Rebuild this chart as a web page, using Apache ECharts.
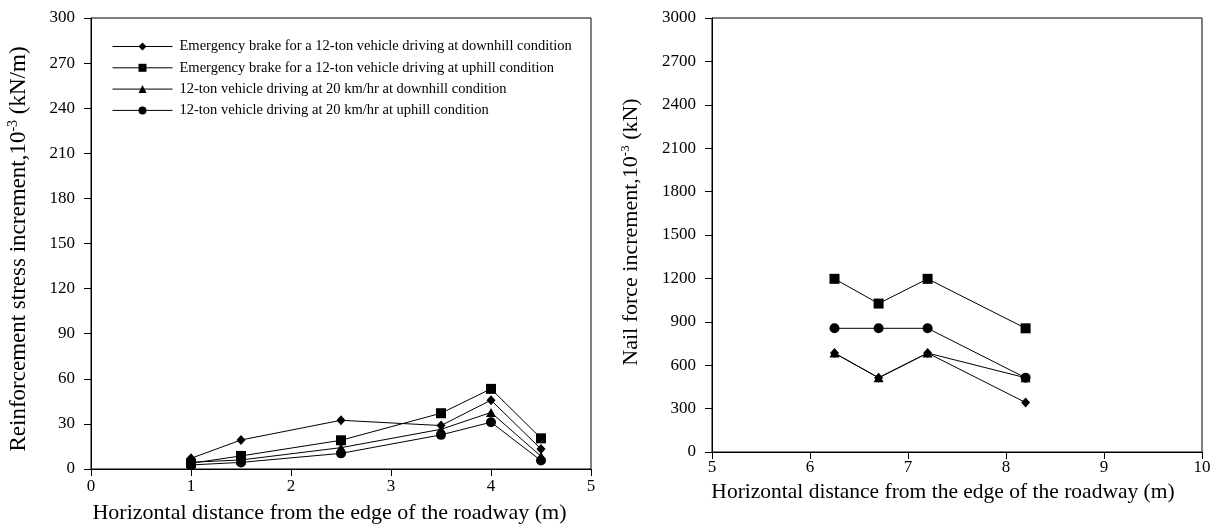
<!DOCTYPE html>
<html>
<head>
<meta charset="utf-8">
<script src="https://cdn.jsdelivr.net/npm/echarts@6/dist/echarts.min.js"></script>
<style>
html,body{margin:0;padding:0;background:#fff;}
#chart{width:1221px;height:532px;}
</style>
</head>
<body>
<div id="chart"></div>
<script>
// ---- Data ----
const seriesNames = [
  'Emergency brake for a 12-ton vehicle driving at downhill condition',
  'Emergency brake for a 12-ton vehicle driving at uphill condition',
  '12-ton vehicle driving at 20 km/hr at downhill condition',
  '12-ton vehicle driving at 20 km/hr at uphill condition'
];
const seriesSymbols = ['diamond', 'rect', 'triangle', 'circle'];

// Left chart: reinforcement stress increment
const leftX = [1, 1.5, 2.5, 3.5, 4, 4.5];
const leftDownBrake = [7.1, 19.3, 32.4, 28.9, 45.8, 13.3];
const leftUpBrake   = [3.8, 8.7, 19.1, 37.1, 53.3, 20.4];
const leftDown20    = [4.5, 6.0, 14.2, 26.4, 37.6, 8.5];
const leftUp20      = [2.7, 4.4, 10.4, 22.7, 31.1, 5.6];

// Right chart: nail force increment
const rightX = [6.25, 6.7, 7.2, 8.2];
const rightDownBrake = [684, 513, 684, 342];
const rightUpBrake   = [1197, 1026, 1197, 855];
const rightDown20    = [684, 513, 684, 513];
const rightUp20      = [855, 855, 855, 513];

const leftYTicks = {min: 0, max: 300, interval: 30};
const rightYTicks = {min: 0, max: 3000, interval: 300};
const leftXTicks = {min: 0, max: 5, interval: 1};
const rightXTicks = {min: 5, max: 10, interval: 1};

const xTitle = 'Horizontal distance from the edge of the roadway (m)';
const leftYTitle = 'Reinforcement stress increment,10{sup|-3} (kN/m)';
const rightYTitle = 'Nail force increment,10{sup|-3} (kN)';

// ---- Chart ----
const FONT = '"Liberation Serif", "Times New Roman", serif';
const pair = (xs, ys) => xs.map((x, i) => [x, ys[i]]);
const leftData = [leftDownBrake, leftUpBrake, leftDown20, leftUp20];
const rightData = [rightDownBrake, rightUpBrake, rightDown20, rightUp20];
const symSizes = {diamond: [9, 10], rect: 10, triangle: [10, 9], circle: 10};

function mkSeries(data, xs, idx) {
  return data.map((ys, i) => ({
    name: seriesNames[i],
    type: 'line',
    xAxisIndex: idx,
    yAxisIndex: idx,
    data: pair(xs, ys),
    symbol: seriesSymbols[i],
    symbolSize: symSizes[seriesSymbols[i]],
    showAllSymbol: true,
    lineStyle: {color: '#000', width: 1},
    itemStyle: {color: '#000', borderWidth: 0},
    emphasis: {disabled: true},
    animation: false,
    z: 2 + (3 - i)
  }));
}

const axisCommon = {
  axisLine: {show: true, lineStyle: {color: '#000', width: 1}},
  axisTick: {show: true, inside: false, length: 7, lineStyle: {color: '#000', width: 1}},
  splitLine: {show: false},
  axisLabel: {color: '#000', fontFamily: FONT, fontSize: 17, formatter: v => String(v)},
  nameTextStyle: {color: '#000', fontFamily: FONT, fontSize: 22}
};

function yName(size, extra) {
  return Object.assign({}, axisCommon.nameTextStyle, {
    fontSize: size,
    rich: {
      sup: {fontFamily: FONT, fontSize: Math.round(size * 0.6), verticalAlign: 'top', lineHeight: size + 2, color: '#000'}
    }
  }, extra || {});
}

const chart = echarts.init(document.getElementById('chart'), null, {renderer: 'canvas'});
chart.setOption({
  backgroundColor: '#fff',
  animation: false,
  grid: [
    {left: 91, right: 630, top: 18, bottom: 63, show: true, borderColor: '#000', borderWidth: 1, backgroundColor: 'transparent'},
    {left: 712, right: 19, top: 18, bottom: 80, show: true, borderColor: '#000', borderWidth: 1, backgroundColor: 'transparent'}
  ],
  legend: {
    show: true,
    orient: 'vertical',
    left: 107,
    top: 34,
    padding: 5,
    itemWidth: 60,
    itemHeight: 10,
    itemGap: 6.3,
    data: seriesNames,
    lineStyle: {width: 1},
    textStyle: {fontFamily: FONT, fontSize: 14.5, lineHeight: 10, color: '#000', padding: [0, 0, 0, 2]},
    selectedMode: false
  },
  xAxis: [
    Object.assign({}, axisCommon, {
      gridIndex: 0, type: 'value', ...leftXTicks,
      name: xTitle, nameLocation: 'middle', nameGap: 33,
      axisLabel: Object.assign({}, axisCommon.axisLabel, {margin: 9}),
      nameTextStyle: Object.assign({}, axisCommon.nameTextStyle, {fontSize: 22, padding: [0, 23, 0, 0]})
    }),
    Object.assign({}, axisCommon, {
      gridIndex: 1, type: 'value', ...rightXTicks,
      name: xTitle, nameLocation: 'middle', nameGap: 25,
      axisLabel: Object.assign({}, axisCommon.axisLabel, {margin: 7}),
      nameTextStyle: Object.assign({}, axisCommon.nameTextStyle, {fontSize: 21.5, padding: [0, 28, 0, 0]})
    })
  ],
  yAxis: [
    Object.assign({}, axisCommon, {
      gridIndex: 0, type: 'value', ...leftYTicks,
      name: leftYTitle, nameLocation: 'middle', nameGap: 60, nameRotate: 90,
      axisLabel: Object.assign({}, axisCommon.axisLabel, {margin: 16}),
      nameTextStyle: yName(23, {padding: [0, 11, 0, 0]})
    }),
    Object.assign({}, axisCommon, {
      gridIndex: 1, type: 'value', ...rightYTicks,
      name: rightYTitle, nameLocation: 'middle', nameGap: 69, nameRotate: 90,
      axisLabel: Object.assign({}, axisCommon.axisLabel, {margin: 16}),
      nameTextStyle: yName(22, {padding: [0, 0, 0, 6]})
    })
  ],
  series: [].concat(mkSeries(leftData, leftX, 0), mkSeries(rightData, rightX, 1))
});
</script>
</body>
</html>
